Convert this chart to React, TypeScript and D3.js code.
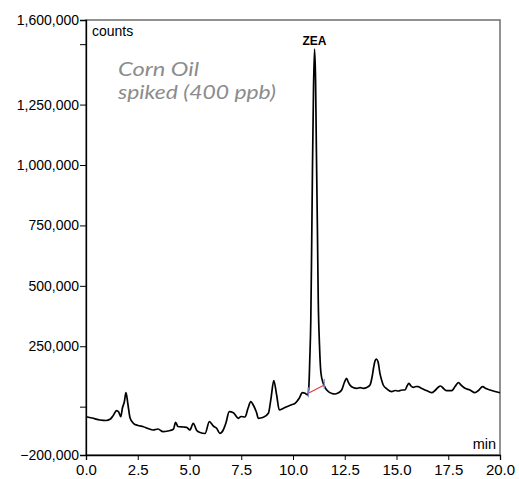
import React, { useEffect, useRef } from "react";
import * as d3 from "d3";

// chromatogram (time in min, detector counts)
const times = [
  0, 0.29, 0.68, 0.97, 1.16, 1.3, 1.48, 1.58, 1.68, 1.76, 1.85, 1.93, 2.03, 2.13, 2.29, 2.51,
  2.77, 3.0, 3.24, 3.48, 3.72, 3.96, 4.22, 4.33, 4.44, 4.69, 4.86, 5.02, 5.18, 5.35, 5.51,
  5.75, 5.96, 6.15, 6.31, 6.47, 6.63, 6.76, 6.92, 7.12, 7.36, 7.49, 7.68, 7.83, 7.96, 8.08,
  8.25, 8.32, 8.57, 8.81, 8.94, 9.07, 9.21, 9.34, 9.52, 9.7, 9.9, 10.1, 10.3, 10.45, 10.58,
  10.72, 10.77, 10.81, 10.86, 10.9, 10.94, 10.99, 11.04, 11.09, 11.13, 11.18, 11.22, 11.28,
  11.35, 11.46, 11.55, 11.71, 11.88, 12.03, 12.17, 12.35, 12.49, 12.59, 12.67, 12.75, 12.9,
  13.08, 13.24, 13.4, 13.56, 13.72, 13.82, 13.89, 13.96, 14.02, 14.11, 14.2, 14.28, 14.36,
  14.54, 14.77, 14.93, 15.09, 15.27, 15.41, 15.51, 15.6, 15.7, 15.81, 15.94, 16.05, 16.22,
  16.38, 16.55, 16.7, 16.86, 17.0, 17.13, 17.27, 17.43, 17.67, 17.83, 17.99, 18.14, 18.31,
  18.55, 18.79, 18.96, 19.16, 19.32, 19.52, 19.76, 20.0,
];
const counts = [
  -41500, -46900, -55200, -57300, -52300, -38700, -16700, -22100, -41500, -5600, 19300, 57700,
  6900, -46900, -68900, -78000, -82900, -90400, -96600, -92400, -103600, -100700, -93700,
  -64700, -82100, -84200, -85400, -96600, -68900, -98600, -106900, -111100, -62200, -80000,
  -89500, -110200, -96600, -67600, -20900, -25000, -48200, -40700, -42800, -5600, 20500, 6900,
  -27500, -48200, -44000, -27500, 35800, 108200, 48200, -13800, -7600, -200, 6900, 13900,
  34600, 57700, 55300, 48200, 89600, 193000, 358500, 648100, 979000, 1310000, 1480000,
  1351400, 1061800, 730800, 441200, 255100, 139200, 96600, 79200, 61900, 54400, 52400, 56500,
  68900, 102000, 117300, 102000, 89600, 79200, 75900, 79200, 75900, 79200, 89600, 122700,
  159900, 188900, 197200, 184800, 138000, 110300, 89600, 73100, 61900, 66900, 64800, 68900,
  68900, 85500, 96600, 85500, 80100, 83400, 82600, 75100, 68900, 62700, 57700, 66900, 79200,
  85500, 75100, 66000, 66000, 83400, 99100, 87500, 75900, 68900, 57700, 66900, 82600, 75100,
  68900, 62700, 57700,
];

// integration baseline under ZEA
const baseTimes = [10.74, 11.51];
const baseCounts = [55300, 89600];

const yLabels = [-200000, 250000, 500000, 750000, 1000000, 1250000, 1600000];
const xLabels = [0, 2.5, 5, 7.5, 10, 12.5, 15, 17.5, 20];

const W = 519;
const H = 479;
const m = { left: 86, right: 19, top: 20, bottom: 24 };

export default function App() {
  const ref = useRef<SVGSVGElement>(null);

  useEffect(() => {
    const svg = d3.select(ref.current);
    svg.selectAll("*").remove();

    const x = d3.scaleLinear().domain([0, 20]).range([m.left, W - m.right]);
    const y = d3.scaleLinear().domain([-200000, 1600000]).range([H - m.bottom, m.top]);
    const font = "Arial, 'Liberation Sans', sans-serif";

    // frame
    svg.append("rect")
      .attr("x", x(0)).attr("y", y(1600000))
      .attr("width", x(20) - x(0)).attr("height", y(-200000) - y(1600000))
      .attr("fill", "none").attr("stroke", "#6e6e6e").attr("stroke-width", 1.5);

    // y axis
    const yAxis = svg.append("g").attr("transform", `translate(${x(0)},0)`);
    yAxis.call(
      d3.axisLeft(y).tickValues(d3.range(-200000, 1600001, 50000)).tickSize(4).tickFormat(() => "")
    );
    yAxis.call(
      d3.axisLeft(y)
        .tickValues(d3.range(-200000, 1600001, 50000).filter((v) => v % 250000 === 0 || yLabels.includes(v)))
        .tickSize(6)
        .tickFormat((d) => (yLabels.includes(+d) ? d3.format(",")(+d) : ""))
    );
    yAxis.selectAll("path").attr("stroke", "#000").attr("stroke-width", 1.3);
    yAxis.selectAll("line").attr("stroke", "#000");
    yAxis.selectAll("text").attr("font-family", font).attr("font-size", 14).attr("fill", "#000").attr("x", -7);

    // x axis
    const xAxis = svg.append("g").attr("transform", `translate(0,${y(-200000)})`);
    xAxis.call(d3.axisBottom(x).tickValues(d3.range(0, 20.01, 0.5)).tickSize(5).tickFormat(() => ""));
    xAxis.call(d3.axisBottom(x).tickValues(xLabels).tickSize(5).tickFormat(d3.format(".1f")));
    xAxis.selectAll("path").attr("stroke", "#000").attr("stroke-width", 1.3);
    xAxis.selectAll("line").attr("stroke", "#000");
    xAxis.selectAll("text").attr("font-family", font).attr("font-size", 15).attr("fill", "#000").attr("y", 9);

    // trace
    const pts: [number, number][] = times.map((t, i) => [t, counts[i]]);
    svg.append("path")
      .datum(pts)
      .attr("fill", "none")
      .attr("stroke", "#000")
      .attr("stroke-width", 1.7)
      .attr("stroke-linejoin", "round")
      .attr("d", d3.line<[number, number]>().x((d) => x(d[0])).y((d) => y(d[1])).curve(d3.curveMonotoneX)(pts));

    // baseline + markers
    svg.append("line")
      .attr("x1", x(baseTimes[0])).attr("y1", y(baseCounts[0]))
      .attr("x2", x(baseTimes[1])).attr("y2", y(baseCounts[1]))
      .attr("stroke", "#e8383a").attr("stroke-width", 1.1);
    baseTimes.forEach((t, i) => {
      svg.append("line")
        .attr("x1", x(t)).attr("x2", x(t))
        .attr("y1", y(baseCounts[i]) - 6).attr("y2", y(baseCounts[i]) + 4)
        .attr("stroke", "#7d8fc4").attr("stroke-width", 1.2);
    });

    // labels
    svg.append("text").attr("x", x(0) + 6).attr("y", 36)
      .attr("font-family", font).attr("font-size", 14).text("counts");
    svg.append("text").attr("x", x(20) - 4).attr("y", 449).attr("text-anchor", "end")
      .attr("font-family", font).attr("font-size", 14.5).text("min");
    svg.append("text").attr("x", x(11.04)).attr("y", 45).attr("text-anchor", "middle")
      .attr("font-family", font).attr("font-size", 12).attr("font-weight", "bold").text("ZEA");

    const note = svg.append("g").attr("font-family", "Lato, 'Open Sans', sans-serif")
      .attr("font-style", "italic").attr("font-size", 20).attr("fill", "#8c8c8c");
    note.append("text").attr("x", 118).attr("y", 76)
      .attr("textLength", 81).attr("lengthAdjust", "spacingAndGlyphs").text("Corn Oil");
    note.append("text").attr("x", 118).attr("y", 99)
      .attr("textLength", 158).attr("lengthAdjust", "spacingAndGlyphs").text("spiked (400 ppb)");
  }, []);

  return (
    <svg ref={ref} width={W} height={H} style={{ position: "absolute", left: 0, top: 0, background: "#fff" }} />
  );
}
